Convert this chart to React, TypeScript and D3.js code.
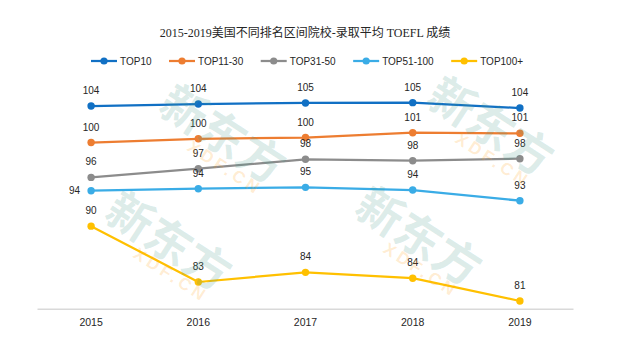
import React from "react";
import * as d3 from "d3";

const W = 637;
const H = 354;

const title = "2015-2019美国不同排名区间院校-录取平均 TOEFL 成绩";
const years = ["2015", "2016", "2017", "2018", "2019"];
const seriesNames = ["TOP10", "TOP11-30", "TOP31-50", "TOP51-100", "TOP100+"];
const top10 = [104.2, 104.44, 104.56, 104.6, 103.96];
const top11to30 = [99.85, 100.3, 100.45, 101.02, 100.95];
const top31to50 = [95.7, 96.74, 97.86, 97.69, 97.93];
const top51to100 = [94.12, 94.36, 94.52, 94.2, 92.93];
const top100plus = [89.9, 83.25, 84.4, 83.7, 80.99];
const seriesValues = [top10, top11to30, top31to50, top51to100, top100plus];
const colors = ["#1170c4", "#ed7d31", "#8c8c8c", "#3aace6", "#ffc000"];
// label placement per series/point ("a" above, "l" left)
const labelPlacement = [
  ["a", "a", "a", "a", "a"],
  ["a", "a", "a", "a", "a"],
  ["a", "a", "a", "a", "a"],
  ["l", "a", "a", "a", "a"],
  ["a", "a", "a", "a", "a"],
];

// watermark anchor centres (decoration, only those fully inside the picture)
const watermarks: [number, number][] = [
  [222, 136], [490, 128],
  [168, 243], [418, 238],
];

const sansFont = "'Liberation Sans', Arial, 'Noto Sans CJK SC', sans-serif";

function measure(s: string, font: string): number {
  const ctx = document.createElement("canvas").getContext("2d");
  if (!ctx) return s.length * 6;
  ctx.font = font;
  return ctx.measureText(s).width;
}

export default function App() {
  const x = d3.scaleBand<string>().domain(years).range([37.5, 573.5]);
  const cx = (yr: string) => (x(yr) as number) + x.bandwidth() / 2;
  const y = d3.scaleLinear().domain([80, 110]).range([309.3, 57.3]);
  const line = d3
    .line<number>()
    .x((_, i) => cx(years[i]))
    .y((d) => y(d));

  // legend layout
  const legendFont = `10px ${sansFont}`;
  let lx = 91;
  const legendItems = seriesNames.map((name, i) => {
    const item = { name, x: lx, color: colors[i] };
    lx += 29 + measure(name, legendFont) + 17.5;
    return item;
  });
  const legendY = 61;

  return (
    <svg
      width={W}
      height={H}
      style={{ position: "fixed", left: 0, top: 0, background: "#fff" }}
    >
      <rect x={0} y={0} width={W} height={H} fill="#fff" />
      <text
        x={305}
        y={37}
        textAnchor="middle"
        fontSize={12}
        fill="#262626"
        fontFamily="'Liberation Serif', 'Times New Roman', 'Noto Sans CJK SC', serif"
      >
        {title}
      </text>

      {legendItems.map((it) => (
        <g key={it.name}>
          <line
            x1={it.x}
            x2={it.x + 26}
            y1={legendY}
            y2={legendY}
            stroke={it.color}
            strokeWidth={2.25}
          />
          <circle cx={it.x + 13} cy={legendY} r={3.6} fill={it.color} />
          <text
            x={it.x + 29}
            y={legendY + 3.6}
            fontSize={10}
            fontFamily={sansFont}
            fill="#262626"
          >
            {it.name}
          </text>
        </g>
      ))}

      <line
        x1={37.5}
        x2={573.5}
        y1={y(80)}
        y2={y(80)}
        stroke="#d9d9d9"
        strokeWidth={1.5}
      />
      {years.map((yr) => (
        <text
          key={yr}
          x={cx(yr)}
          y={325.5}
          textAnchor="middle"
          fontSize={10.5}
          fontFamily={sansFont}
          fill="#262626"
        >
          {yr}
        </text>
      ))}

      {seriesValues.map((vals, si) => (
        <g key={seriesNames[si]}>
          <path
            d={line(vals) || ""}
            fill="none"
            stroke={colors[si]}
            strokeWidth={2.25}
            strokeLinejoin="round"
          />
          {vals.map((v, i) => (
            <circle
              key={i}
              cx={cx(years[i])}
              cy={y(v)}
              r={3.7}
              fill={colors[si]}
            />
          ))}
        </g>
      ))}

      {seriesValues.map((vals, si) =>
        vals.map((v, i) => {
          const px = cx(years[i]);
          const py = y(v);
          const left = labelPlacement[si][i] === "l";
          return (
            <text
              key={`${si}-${i}`}
              x={left ? px - 11 : px}
              y={left ? py + 3.6 : py - 12}
              textAnchor={left ? "end" : "middle"}
              fontSize={10}
              fontFamily={sansFont}
              fill="#262626"
            >
              {Math.round(v)}
            </text>
          );
        })
      )}

      <g pointerEvents="none">
        {watermarks.map(([wx, wy], k) => (
          <g key={k} transform={`translate(${wx},${wy}) rotate(33)`}>
            <text
              x={0}
              y={15}
              textAnchor="middle"
              fontSize={46}
              fontWeight={700}
              fontFamily="'Noto Sans CJK SC', sans-serif"
              fill="#4a9e8c"
              fillOpacity={0.2}
            >
              新东方
            </text>
            <text
              x={20}
              y={31}
              textAnchor="middle"
              fontSize={17}
              fontWeight={700}
              letterSpacing={4}
              fontFamily={sansFont}
              fill="#ffa01e"
              fillOpacity={0.2}
            >
              XDF.CN
            </text>
          </g>
        ))}
      </g>
    </svg>
  );
}
